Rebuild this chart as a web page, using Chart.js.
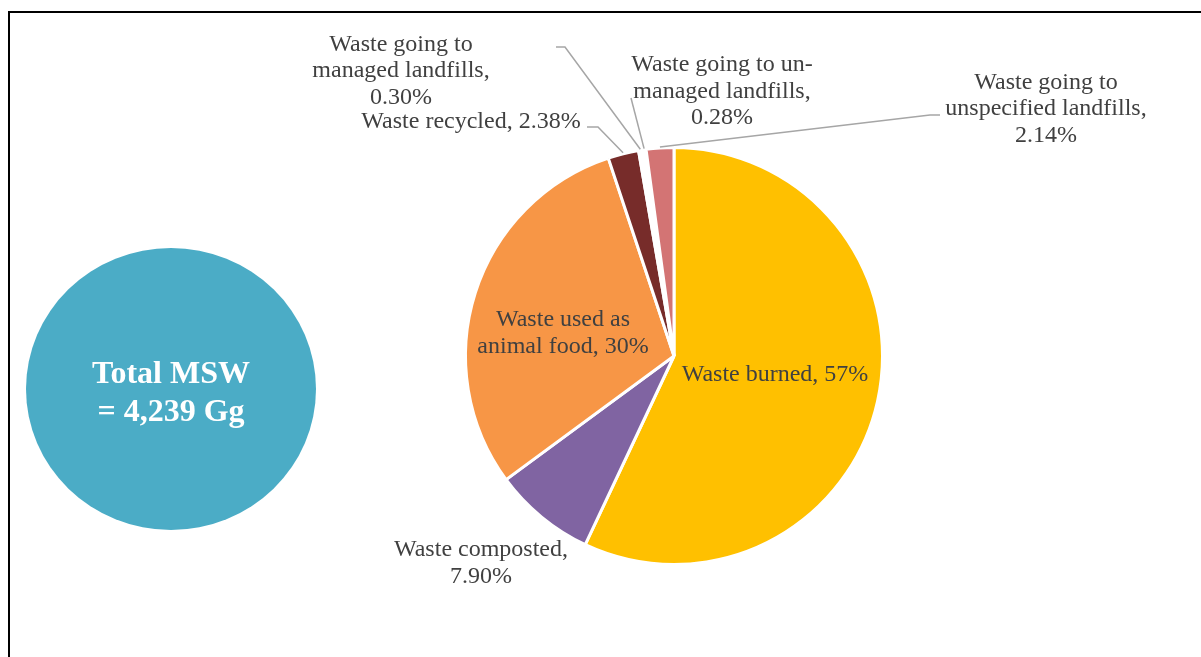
<!DOCTYPE html>
<html>
<head>
<meta charset="utf-8">
<script src="https://cdn.jsdelivr.net/npm/chart.js@4.4.0/dist/chart.umd.min.js"></script>
<style>
  html, body { margin: 0; padding: 0; background: #ffffff; overflow: hidden; }
  canvas { display: block; }
</style>
</head>
<body>
<canvas id="msw" width="1201" height="657"></canvas>
<script>
// Municipal solid waste by treatment route (share of total, %)
const categories = [
  'Waste burned',
  'Waste composted',
  'Waste used as animal food',
  'Waste recycled',
  'Waste going to managed landfills',
  'Waste going to un-managed landfills',
  'Waste going to unspecified landfills'
];
const shares = [57, 7.90, 30, 2.38, 0.30, 0.28, 2.14];
const shareDecimals = [0, 2, 0, 2, 2, 2, 2];
const sliceColors = ['#FFC000', '#8064A2', '#F79646', '#772C2A', '#FFFFFF', '#FFFFFF', '#D37474'];

// Wrapped data-label lines; {v} is replaced by the formatted share
const labelLines = [
  ['Waste burned, {v}'],
  ['Waste composted,', '{v}'],
  ['Waste used as', 'animal food, {v}'],
  ['Waste recycled, {v}'],
  ['Waste going to', 'managed landfills,', '{v}'],
  ['Waste going to un-', 'managed landfills,', '{v}'],
  ['Waste going to', 'unspecified landfills,', '{v}']
];
const totalLines = ['Total MSW', '= 4,239 Gg'];

// Label block centres and leader-line bends, in px relative to the pie centre
const labelPlacement = [
  { dx: 101, dy: 19 },
  { dx: -193, dy: 207 },
  { dx: -111, dy: -23 },
  { dx: -203, dy: -234, leader: [[-76, -229], [-87, -229]] },
  { dx: -273, dy: -285, leader: [[-109, -309], [-118, -309]] },
  { dx: 48, dy: -264.5, leader: [[-43, -258]] },
  { dx: 372, dy: -247, leader: [[256, -241], [266, -241]] }
];

const LABEL_FONT = '24px "Liberation Serif", "Times New Roman", serif';
const LABEL_COLOR = '#404040';
const LINE_GAP = 26.7;

// Frame and the "Total MSW" disc behind the chart
const backdrop = {
  id: 'backdrop',
  beforeDraw(chart) {
    const ctx = chart.ctx;
    ctx.save();
    ctx.fillStyle = '#ffffff';
    ctx.fillRect(0, 0, chart.width, chart.height);
    ctx.strokeStyle = '#000000';
    ctx.lineWidth = 2;
    ctx.beginPath();
    ctx.moveTo(9, chart.height + 5);
    ctx.lineTo(9, 12);
    ctx.lineTo(chart.width + 5, 12);
    ctx.stroke();

    ctx.fillStyle = '#4BACC6';
    ctx.beginPath();
    ctx.ellipse(171, 389, 145, 141, 0, 0, Math.PI * 2);
    ctx.fill();

    ctx.fillStyle = '#ffffff';
    ctx.font = 'bold 32px "Liberation Serif", "Times New Roman", serif';
    ctx.textAlign = 'center';
    ctx.textBaseline = 'middle';
    ctx.fillText(totalLines[0], 171, 375);
    ctx.fillText(totalLines[1], 171, 413);
    ctx.restore();
  }
};

// Data labels with leader lines
const sliceLabels = {
  id: 'sliceLabels',
  afterDatasetsDraw(chart) {
    const ctx = chart.ctx;
    const arcs = chart.getDatasetMeta(0).data;
    ctx.save();
    arcs.forEach((arc, i) => {
      const p = labelPlacement[i];
      const cx = arc.x, cy = arc.y;
      if (p.leader) {
        const mid = (arc.startAngle + arc.endAngle) / 2;
        const r = arc.outerRadius + 1;
        ctx.strokeStyle = '#A6A6A6';
        ctx.lineWidth = 1.5;
        ctx.beginPath();
        ctx.moveTo(cx + r * Math.cos(mid), cy + r * Math.sin(mid));
        p.leader.forEach(([lx, ly]) => ctx.lineTo(cx + lx, cy + ly));
        ctx.stroke();
      }
      const value = shares[i].toFixed(shareDecimals[i]) + '%';
      const lines = labelLines[i].map(s => s.replace('{v}', value));
      ctx.fillStyle = LABEL_COLOR;
      ctx.font = LABEL_FONT;
      ctx.textAlign = 'center';
      ctx.textBaseline = 'middle';
      const top = cy + p.dy - (lines.length - 1) * LINE_GAP / 2;
      lines.forEach((line, k) => ctx.fillText(line, cx + p.dx, top + k * LINE_GAP));
    });
    ctx.restore();
  }
};

new Chart(document.getElementById('msw'), {
  type: 'pie',
  data: {
    labels: categories,
    datasets: [{
      data: shares,
      backgroundColor: sliceColors,
      borderColor: '#ffffff',
      borderWidth: 3,
      hoverBorderWidth: 3,
      hoverOffset: 0,
      offset: 0
    }]
  },
  options: {
    responsive: false,
    animation: false,
    events: [],
    devicePixelRatio: 1,
    rotation: 0,
    layout: { padding: { left: 464, right: 317, top: 146, bottom: 91 } },
    plugins: {
      legend: { display: false },
      tooltip: { enabled: false },
      title: { display: false }
    }
  },
  plugins: [backdrop, sliceLabels]
});
</script>
</body>
</html>
